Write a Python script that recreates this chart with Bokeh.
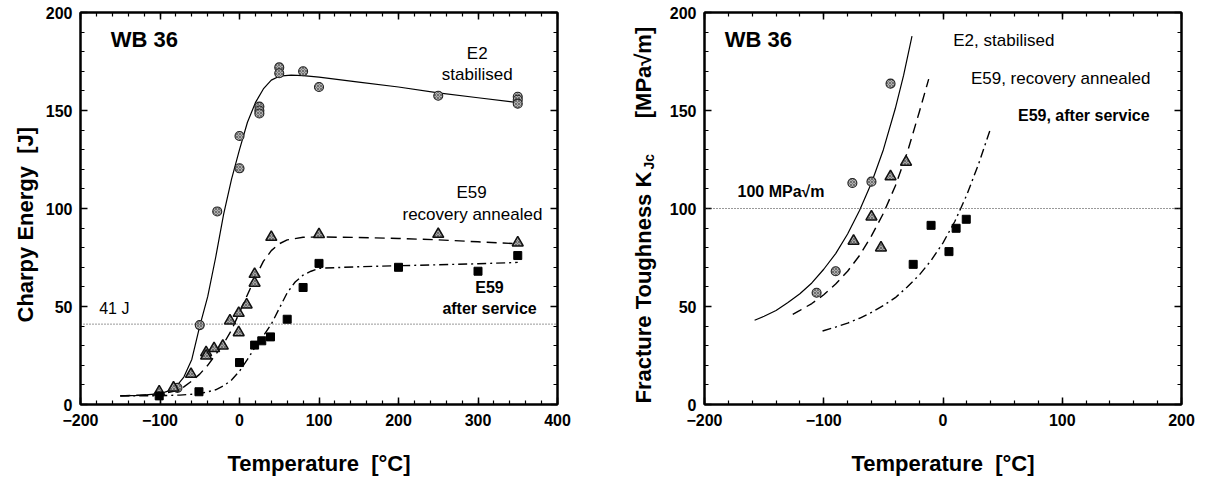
import math
from bokeh.plotting import figure
from bokeh.layouts import row
from bokeh.models import (LinearAxis, SingleIntervalTicker, Label, Span,
                          CustomJSTickFormatter, Range1d)
from bokeh.core.properties import value
from bokeh.embed import file_html
from bokeh.resources import INLINE

FONT = "Liberation Sans"

# ---------------- Left panel: Charpy energy ----------------
e2_T = [-78, -50, -28, 0, 0, 25, 25, 25, 50, 50, 80, 100, 250, 350, 350, 350]
e2_E = [8.5, 40.5, 98.5, 120.5, 137, 152, 150, 148.5, 172, 169, 170, 162, 157.5, 157, 155.5, 153.5]

ra_T = [-101, -83, -61, -42, -42, -32, -21, -12, -1, -1, 9, 19, 19, 40, 100, 250, 350]
ra_E = [6.5, 8.5, 15.5, 26.5, 24.8, 28.6, 29.9, 42.7, 46.6, 36.7, 50.9, 66.5, 62, 85.4, 86.8, 86.9, 82.5]

as_T = [-101, -51, 0, 19, 28, 39, 60, 80, 100, 200, 300, 350]
as_E = [4.4, 6.5, 21.4, 30.3, 32.5, 34.5, 43.5, 59.7, 72, 70, 68, 76]

e2_fit_T = [-150, -125, -100, -90, -80, -70, -60, -50, -40, -30, -20, -10, 0, 10, 20, 30, 40, 50,
            65, 80, 100, 150, 200, 250, 300, 350]
e2_fit_E = [4.4, 4.7, 5.5, 6.8, 9, 14, 23, 40, 55, 75, 97, 115, 130, 144, 154, 161, 165.5, 167.5,
            168, 167.8, 167, 164.5, 162, 159, 156.5, 154]

ra_fit_T = [-150, -100, -80, -70, -60, -50, -40, -30, -20, -10, 0, 10, 20, 30, 40, 50, 60, 80,
            100, 150, 200, 250, 300, 350]
ra_fit_E = [4.4, 5.2, 7, 9, 12, 15.5, 20, 25.5, 31, 38, 47, 56, 65, 73, 78.5, 82, 84, 85.3,
            85.5, 85.2, 84.7, 84, 83, 82]

as_fit_T = [-150, -100, -75, -50, -30, -20, -10, 0, 10, 20, 30, 40, 50, 60, 70, 80, 90, 100,
            150, 200, 250, 300, 350]
as_fit_E = [4.4, 4.5, 4.8, 5.5, 7.5, 9.5, 12.5, 17, 23, 29.5, 35, 41, 49, 57, 62.5, 66, 68, 69.5,
            70.3, 70.8, 71.3, 71.8, 72.5]

charpy_ref = 41  # J

# ---------------- Right panel: fracture toughness ----------------
k_e2_T = [-106, -90, -76, -60, -44]
k_e2_K = [57, 68, 113, 113.7, 163.7]
k_ra_T = [-75, -60, -52, -44, -31]
k_ra_K = [83.4, 95.8, 80, 116.3, 123.7]
k_as_T = [-25, -10, 5, 11, 19.5]
k_as_K = [71.5, 91.4, 78, 89.9, 94.5]

k_e2_fit_T = [-158, -150, -140, -130, -120, -110, -100, -90, -80, -70, -60, -50, -40, -33, -26]
k_e2_fit_K = [43, 45, 48, 52, 56.5, 62, 69, 77, 87, 99, 113, 130, 151, 168, 188]
k_ra_fit_T = [-126, -120, -110, -100, -90, -80, -70, -60, -50, -40, -30, -20, -12]
k_ra_fit_K = [46, 48, 51.5, 56, 61.5, 68, 76, 86, 97.5, 111.5, 128.5, 149, 166]
k_as_fit_T = [-101, -90, -80, -70, -60, -50, -40, -30, -20, -10, 0, 10, 20, 30, 40]
k_as_fit_K = [37.5, 39.5, 41.5, 44, 47, 50.5, 54.5, 60, 66, 73.5, 82.5, 93.5, 107, 123, 141]

kjc_ref = 100  # MPa sqrt(m)

H = 480          # canvas height
TOP = 12         # border above frame
FH = 392         # frame height
FW = 477         # frame width
BOTTOM = H - TOP - FH


def style_axis(ax, labels=True):
    ax.axis_line_color = "black"
    ax.axis_line_width = 2
    ax.major_tick_in = 7
    ax.major_tick_out = 0
    ax.minor_tick_in = 4
    ax.minor_tick_out = 0
    ax.major_tick_line_color = "black"
    ax.minor_tick_line_color = "black"
    ax.major_tick_line_width = 1.5
    ax.minor_tick_line_width = 1.2
    ax.major_label_text_font = FONT
    ax.major_label_text_font_style = "bold"
    ax.major_label_text_font_size = "16px"
    ax.major_label_text_color = "black"
    if not labels:
        ax.formatter = CustomJSTickFormatter(code="return ''")
        ax.major_label_standoff = 0


def make_fig(x_start, x_end, x_interval, border_left, border_right):
    p = figure(frame_width=FW, frame_height=FH,
               x_range=Range1d(x_start, x_end), y_range=Range1d(0, 200),
               output_backend="svg", toolbar_location=None,
               min_border_left=border_left, min_border_right=border_right,
               min_border_top=TOP, min_border_bottom=BOTTOM)
    p.xgrid.visible = False
    p.ygrid.visible = False
    p.background_fill_color = "white"
    p.border_fill_color = "white"
    p.outline_line_color = "black"
    p.outline_line_width = 2
    p.xaxis.ticker = SingleIntervalTicker(interval=x_interval, num_minor_ticks=5)
    p.yaxis.ticker = SingleIntervalTicker(interval=50, num_minor_ticks=5)
    style_axis(p.xaxis[0])
    style_axis(p.yaxis[0])
    p.xaxis.major_label_standoff = 9
    p.yaxis.major_label_standoff = 8
    p.xaxis.axis_label = "Temperature\u00a0\u00a0[°C]"
    p.xaxis.axis_label_text_font = FONT
    p.xaxis.axis_label_text_font_style = "bold"
    p.xaxis.axis_label_text_font_size = "22px"
    p.xaxis.axis_label_text_color = "black"
    p.xaxis.axis_label_standoff = 22
    top = LinearAxis(ticker=SingleIntervalTicker(interval=x_interval, num_minor_ticks=5))
    right = LinearAxis(ticker=SingleIntervalTicker(interval=50, num_minor_ticks=5))
    style_axis(top, labels=False)
    style_axis(right, labels=False)
    p.add_layout(top, "above")
    p.add_layout(right, "right")
    return p


def title_fig(width):
    """Blank strip with the same vertical frame geometry as the plots; its y range is
    expressed as canvas pixels from the top, so y = 12 is the frame top."""
    t = figure(frame_width=width, frame_height=FH,
               x_range=Range1d(0, width), y_range=Range1d(TOP + FH, TOP),
               output_backend="svg", toolbar_location=None, x_axis_type=None, y_axis_type=None,
               min_border_left=0, min_border_right=0,
               min_border_top=TOP, min_border_bottom=BOTTOM)
    t.outline_line_color = None
    t.xgrid.visible = False
    t.ygrid.visible = False
    t.background_fill_color = "white"
    t.border_fill_color = "white"
    return t


def vtext(t, x, y, s, size="22px", align="left"):
    t.text(x=[x], y=[y], text=[s], angle=math.pi / 2, text_font=value(FONT),
           text_font_size=size, text_font_style="bold", text_color="black",
           text_align=align, text_baseline="alphabetic")


def txt(p, x, y, s, size="17px", bold=False, align="left", baseline="middle"):
    p.add_layout(Label(x=x, y=y, text=s, text_font=FONT, text_font_size=size,
                       text_font_style="bold" if bold else "normal", text_color="black",
                       text_align=align, text_baseline=baseline))


def markers(p, tx, ty, kind):
    if kind == "circle":
        p.scatter(tx, ty, marker="circle", size=9, fill_color="#b0b0b0", line_color="#222222",
                  line_width=1.1, hatch_pattern="x", hatch_color="#555555", hatch_scale=3,
                  hatch_weight=0.7)
    elif kind == "triangle":
        p.scatter(tx, ty, marker="triangle", size=11, fill_color="#a8a8a8", line_color="#111111",
                  line_width=1.5, hatch_pattern="x", hatch_color="#555555", hatch_scale=3,
                  hatch_weight=0.7)
    else:
        p.scatter(tx, ty, marker="square", size=8, fill_color="black", line_color="black")


# ---------- left title strip ----------
L1W = 40
t1 = title_fig(L1W)
vtext(t1, 25, 322, "Charpy Energy\u00a0\u00a0[J]")

# ---------- left figure ----------
p1 = make_fig(-200, 400, 100, 40, 40)
p1.add_layout(Span(location=charpy_ref, dimension="width", line_color="#333333",
                   line_width=1, line_dash="1 2"))
p1.line(e2_fit_T, e2_fit_E, line_color="black", line_width=1.2)
p1.line(ra_fit_T, ra_fit_E, line_color="black", line_width=1.4, line_dash="10 6")
p1.line(as_fit_T, as_fit_E, line_color="black", line_width=1.4, line_dash="9 4 2 4")
markers(p1, e2_T, e2_E, "circle")
markers(p1, ra_T, ra_E, "triangle")
markers(p1, as_T, as_E, "square")

txt(p1, -162, 186, "WB 36", size="22px", bold=True)
txt(p1, 299, 179, "E2", align="center")
txt(p1, 299, 168.5, "stabilised", align="center")
txt(p1, 292, 108, "E59", align="center")
txt(p1, 293, 97, "recovery annealed", align="center")
txt(p1, 314.5, 59.7, "E59", size="16px", align="center", bold=True)
txt(p1, 314.5, 49, "after service", size="16px", align="center", bold=True)
txt(p1, -176.5, 49, "41 J", size="16px")

# ---------- right title strip ----------
L2W = 60
t2 = title_fig(L2W)
vtext(t2, 46, 403, "Fracture Toughness K")
vtext(t2, 51, 169, "Jc", size="14px")
vtext(t2, 46, 72, "[MPa\u221am]", align="center")

# ---------- right figure ----------
p2 = make_fig(-200, 200, 100, 47, 16)
p2.add_layout(Span(location=kjc_ref, dimension="width", line_color="#333333",
                   line_width=1, line_dash="1 2"))
p2.line(k_e2_fit_T, k_e2_fit_K, line_color="black", line_width=1.2)
p2.line(k_ra_fit_T, k_ra_fit_K, line_color="black", line_width=1.4, line_dash="10 6")
p2.line(k_as_fit_T, k_as_fit_K, line_color="black", line_width=1.4, line_dash="9 4 2 4")
markers(p2, k_e2_T, k_e2_K, "circle")
markers(p2, k_ra_T, k_ra_K, "triangle")
markers(p2, k_as_T, k_as_K, "square")

txt(p2, -183, 186, "WB 36", size="22px", bold=True)
txt(p2, 8.6, 185.5, "E2, stabilised")
txt(p2, 23.4, 166.3, "E59, recovery annealed")
txt(p2, 62.9, 147.3, "E59, after service", size="16px", bold=True)
txt(p2, -172.3, 108.5, "100 MPa\u221am", size="16px", bold=True)

layout = row(t1, p1, t2, p2)
open("out.html", "w").write(file_html(layout, INLINE))
